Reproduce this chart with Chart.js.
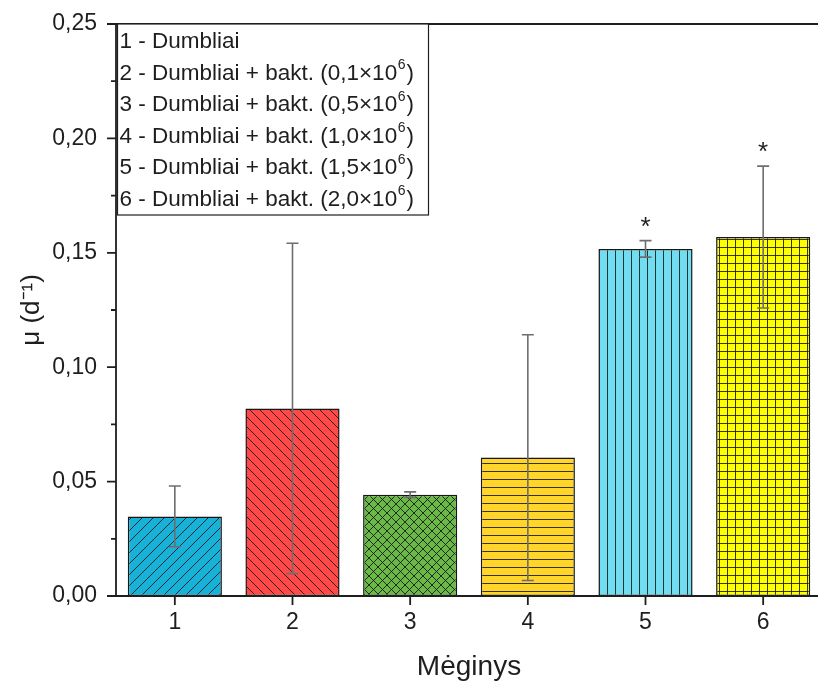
<!DOCTYPE html>
<html>
<head>
<meta charset="utf-8">
<script src="https://cdn.jsdelivr.net/npm/chart.js@4.4.1/dist/chart.umd.min.js"></script>
<style>
  html, body { margin: 0; padding: 0; background: #fff; overflow: hidden; }
  #wrap { width: 822px; height: 684px; }
</style>
</head>
<body>
<div id="wrap"><canvas id="grafico"></canvas></div>
<script>
// duomenys
const meginiai = ["1", "2", "3", "4", "5", "6"];
const muReiksmes = [0.0348, 0.0820, 0.0443, 0.0605, 0.1517, 0.1569];
const muPaklaidos = [0.0133, 0.0722, 0.0012, 0.0537, 0.0036, 0.0310];
const zvaigzdutes = ["", "", "", "", "*", "*"];
const yTikai = [0, 0.05, 0.10, 0.15, 0.20, 0.25];
const legendosPavadinimai = ["Dumbliai", "Dumbliai + bakt.", "Dumbliai + bakt.", "Dumbliai + bakt.", "Dumbliai + bakt.", "Dumbliai + bakt."];
const legendosKoncentracijos = [null, "0,1", "0,5", "1,0", "1,5", "2,0"];

const spalvos = ["#18b2d8", "#ff4848", "#6ab846", "#ffd52a", "#70def0", "#ffff00"];
const rastai = ["fwd", "back", "cross", "horiz", "vert", "grid"];
const rastoDydis = [11, 10, 9, 8, 8, 8];

const FONT = "'Liberation Sans', Arial, sans-serif";

// užpildo raštai (hatch)
function sukurtiRasta(spalva, tipas, s) {
  const c = document.createElement("canvas");
  c.width = s; c.height = s;
  const g = c.getContext("2d");
  g.fillStyle = spalva;
  g.fillRect(0, 0, s, s);
  g.strokeStyle = "rgba(20,20,20,0.85)";
  g.lineWidth = 1;
  g.beginPath();
  if (tipas === "fwd" || tipas === "cross") {
    for (const o of [-s, 0, s]) { g.moveTo(o, s); g.lineTo(o + s, 0); }
  }
  if (tipas === "back" || tipas === "cross") {
    for (const o of [-s, 0, s]) { g.moveTo(o, 0); g.lineTo(o + s, s); }
  }
  if (tipas === "horiz" || tipas === "grid") {
    g.moveTo(0, s - 0.5); g.lineTo(s, s - 0.5);
  }
  if (tipas === "vert" || tipas === "grid") {
    g.moveTo(s - 0.5, 0); g.lineTo(s - 0.5, s);
  }
  g.stroke();
  return g.createPattern(c, "repeat");
}

const rastaiFill = spalvos.map((sp, i) => sukurtiRasta(sp, rastai[i], rastoDydis[i]));

// ašys ir tikai piešiami rankiniu būdu (Origin stilius)
const asiuPlugin = {
  id: "asys",
  afterDatasetsDraw(chart) {
    const { ctx, chartArea: a, scales } = chart;
    ctx.save();
    ctx.strokeStyle = "#1e1e1e";
    ctx.lineWidth = 1.8;
    ctx.beginPath();
    ctx.moveTo(a.left, a.top); ctx.lineTo(a.left, a.bottom);
    ctx.moveTo(a.left, a.bottom); ctx.lineTo(a.right, a.bottom);
    ctx.moveTo(a.left, a.top); ctx.lineTo(a.right, a.top);
    ctx.moveTo(a.right, a.top); ctx.lineTo(a.right, a.bottom);
    // y tikai
    scales.y.ticks.forEach((t) => {
      const y = scales.y.getPixelForValue(t.value);
      const didelis = Math.round(t.value * 1000) % 50 === 0;
      ctx.moveTo(a.left, y); ctx.lineTo(a.left - (didelis ? 9 : 5), y);
    });
    // x tikai
    meginiai.forEach((m, i) => {
      const x = scales.x.getPixelForValue(i);
      ctx.moveTo(x, a.bottom); ctx.lineTo(x, a.bottom + 9);
    });
    ctx.stroke();
    ctx.restore();
  }
};

// paklaidų juostos + žvaigždutės
const paklaiduPlugin = {
  id: "paklaidos",
  afterDatasetsDraw(chart) {
    const { ctx, scales } = chart;
    ctx.save();
    ctx.strokeStyle = "#6e6e6e";
    ctx.lineWidth = 1.6;
    muReiksmes.forEach((v, i) => {
      const x = scales.x.getPixelForValue(i);
      const yV = scales.y.getPixelForValue(v + muPaklaidos[i]);
      const yA = scales.y.getPixelForValue(v - muPaklaidos[i]);
      ctx.beginPath();
      ctx.moveTo(x, yV); ctx.lineTo(x, yA);
      ctx.moveTo(x - 6, yV); ctx.lineTo(x + 6, yV);
      ctx.moveTo(x - 6, yA); ctx.lineTo(x + 6, yA);
      ctx.stroke();
      if (zvaigzdutes[i]) {
        ctx.fillStyle = "#1e1e1e";
        ctx.font = "26px " + FONT;
        ctx.textAlign = "center";
        ctx.textBaseline = "middle";
        ctx.fillText(zvaigzdutes[i], x, yV - 13);
      }
    });
    ctx.restore();
  }
};

// legenda (tekstinis blokas viršuje kairėje)
const legendosPlugin = {
  id: "legendaTekstas",
  afterDraw(chart) {
    const { ctx, chartArea: a } = chart;
    const x0 = a.left + 1.5, y0 = a.top, w = 311, h = 191;
    ctx.save();
    ctx.fillStyle = "#fff";
    ctx.fillRect(x0, y0, w, h);
    ctx.strokeStyle = "#1e1e1e";
    ctx.lineWidth = 1.2;
    ctx.strokeRect(x0, y0, w, h);
    ctx.fillStyle = "#1e1e1e";
    ctx.textBaseline = "middle";
    ctx.textAlign = "left";
    legendosPavadinimai.forEach((p, i) => {
      const y = y0 + 18 + i * 31.5;
      let x = x0 + 2;
      ctx.font = "22.5px " + FONT;
      let txt = `${i + 1} - ${p}`;
      if (legendosKoncentracijos[i]) txt += ` (${legendosKoncentracijos[i]}\u00d710`;
      ctx.fillText(txt, x, y);
      x += ctx.measureText(txt).width;
      if (legendosKoncentracijos[i]) {
        ctx.font = "14px " + FONT;
        ctx.fillText("6", x + 0.5, y - 8);
        x += ctx.measureText("6").width + 1.5;
        ctx.font = "22.5px " + FONT;
        ctx.fillText(")", x, y);
      }
    });
    ctx.restore();
  }
};

new Chart(document.getElementById("grafico"), {
  type: "bar",
  data: {
    labels: meginiai,
    datasets: [{
      data: muReiksmes,
      backgroundColor: rastaiFill,
      borderColor: "#161616",
      borderWidth: 1.5,
      borderSkipped: false,
      categoryPercentage: 1,
      barPercentage: 0.8,
    }],
  },
  options: {
    responsive: true,
    maintainAspectRatio: false,
    animation: false,
    layout: { padding: { top: 24, left: 0, right: 0, bottom: 0 } },
    plugins: { legend: { display: false }, tooltip: { enabled: false } },
    scales: {
      x: {
        grid: { display: false, drawTicks: false },
        border: { display: false },
        ticks: { color: "#1e1e1e", font: { family: FONT, size: 23 }, padding: 13 },
        title: { display: true, text: "Mėginys", color: "#1e1e1e", font: { family: FONT, size: 28 }, padding: { top: 0, bottom: 0 } },
        afterFit: (s) => { s.height = 88; s.paddingLeft = 0; s.paddingRight = 0; },
      },
      y: {
        min: 0,
        max: 0.25,
        grid: { display: false, drawTicks: false },
        border: { display: false },
        ticks: {
          stepSize: 0.025,
          autoSkip: false,
          color: "#1e1e1e",
          padding: 19,
          font: { family: FONT, size: 23 },
          callback: (v) => {
            const t = yTikai.find((k) => Math.abs(k - v) < 1e-6);
            return t === undefined ? "" : t.toFixed(2).replace(".", ",");
          },
        },
        title: { display: true, text: "μ (d⁻¹)", color: "#1e1e1e", font: { family: FONT, size: 26 }, padding: { top: 16, bottom: 0 } },
        afterFit: (s) => { s.width = 116; s.paddingTop = 0; s.paddingBottom = 0; },
      },
    },
  },
  plugins: [asiuPlugin, paklaiduPlugin, legendosPlugin],
});
</script>
</body>
</html>
